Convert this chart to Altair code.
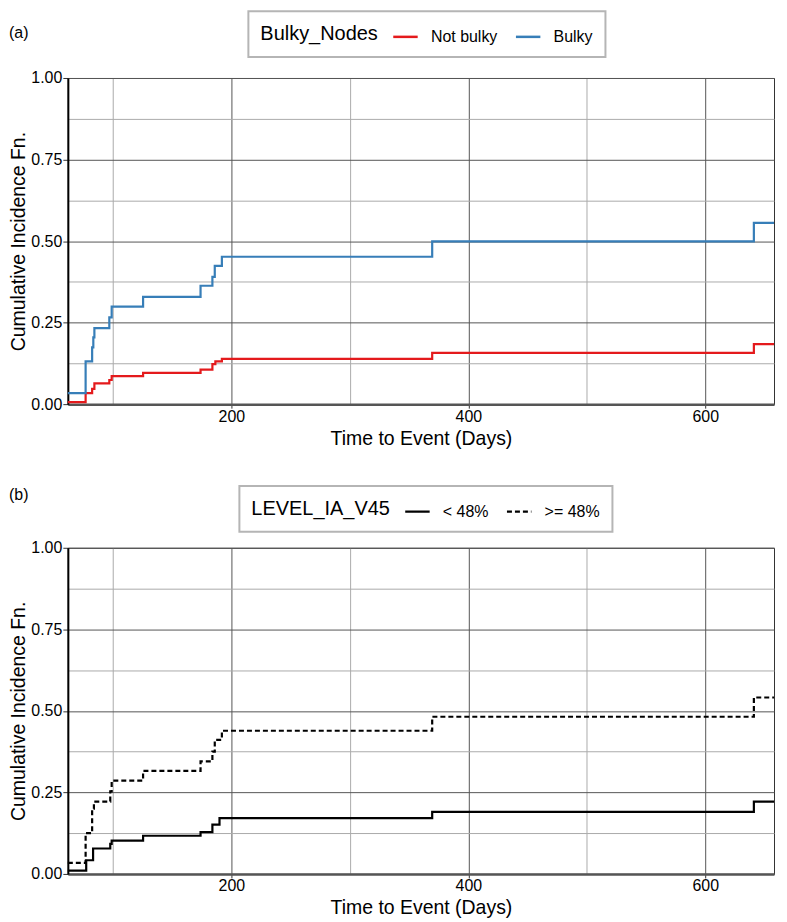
import altair as alt
import pandas as pd

FONT = "Liberation Sans"

# ---------------- panel (a) data ----------------
bulky_groups = ["Not bulky", "Bulky"]
notbulky_t = [62, 77, 82.5, 84.4, 97, 99, 125.5, 174, 184, 186.5, 192, 369.5, 641, 658]
notbulky_v = [0.006, 0.034, 0.047, 0.064, 0.074, 0.086, 0.096, 0.106, 0.123, 0.131, 0.139, 0.157, 0.184, 0.184]
bulky_t = [62, 77, 82.5, 83.5, 84.4, 97, 99, 125.5, 174, 184, 186, 192, 369.5, 641, 658]
bulky_v = [0.034, 0.131, 0.174, 0.205, 0.233, 0.266, 0.299, 0.329, 0.363, 0.39, 0.424, 0.452, 0.499, 0.556, 0.556]
bulky_colors = ["#E41A1C", "#377EB8"]

# ---------------- panel (b) data ----------------
level_groups = ["< 48%", ">= 48%"]
low_t = [62, 77.5, 83.3, 97.8, 99, 125.5, 174, 184, 190, 369.5, 641, 658]
low_v = [0.010, 0.042, 0.078, 0.092, 0.102, 0.117, 0.128, 0.151, 0.171, 0.19, 0.222, 0.222]
high_t = [62, 77, 82.5, 84, 97.8, 99, 125.5, 174, 184, 186, 192, 369.5, 641, 658]
high_v = [0.034, 0.125, 0.20, 0.222, 0.253, 0.286, 0.316, 0.345, 0.375, 0.411, 0.439, 0.482, 0.541, 0.541]

panel_labels = ["(a)", "(b)"]

x_ticks = [100, 200, 300, 400, 500, 600]
y_ticks = [0, 0.125, 0.25, 0.375, 0.5, 0.625, 0.75, 0.875, 1.0]
x_domain = [62, 658]

df_a = pd.concat([
    pd.DataFrame({"time": notbulky_t, "cif": notbulky_v, "group": bulky_groups[0]}),
    pd.DataFrame({"time": bulky_t, "cif": bulky_v, "group": bulky_groups[1]}),
])
df_b = pd.concat([
    pd.DataFrame({"time": low_t, "cif": low_v, "group": level_groups[0]}),
    pd.DataFrame({"time": high_t, "cif": high_v, "group": level_groups[1]}),
])

MAJOR = "#555555"
MINOR = "#ababab"


def x_enc():
    return alt.X(
        "time:Q",
        scale=alt.Scale(domain=x_domain, nice=False, zero=False),
        axis=alt.Axis(
            values=x_ticks,
            title="Time to Event (Days)",
            labelExpr="datum.value % 200 == 0 ? datum.label : ''",
            gridColor={"condition": {"test": "datum.value % 200 == 0", "value": MAJOR}, "value": MINOR},
            tickOpacity={"condition": {"test": "datum.value % 200 == 0", "value": 1}, "value": 0},
            domainColor="#555555",
            domainWidth=2.5,
            tickColor="#333333",
            tickSize=4,
            labelFontSize=16,
            titleFontSize=19.5,
            labelFont=FONT,
            titleFont=FONT,
            titleFontWeight="normal",
            labelColor="black",
            titleColor="black",
            labelPadding=0,
            titlePadding=5,
        ),
    )


def y_enc():
    return alt.Y(
        "cif:Q",
        scale=alt.Scale(domain=[0, 1], nice=False),
        axis=alt.Axis(
            values=y_ticks,
            title="Cumulative Incidence Fn.",
            format=".2f",
            labelExpr="(datum.value * 8) % 2 == 0 ? datum.label : ''",
            gridColor={"condition": {"test": "(datum.value * 8) % 2 == 0", "value": MAJOR}, "value": MINOR},
            tickOpacity={"condition": {"test": "(datum.value * 8) % 2 == 0", "value": 1}, "value": 0},
            domainColor="black",
            domainWidth=2,
            tickColor="#333333",
            tickSize=5,
            labelFontSize=16,
            titleFontSize=19.5,
            labelFont=FONT,
            titleFont=FONT,
            titleFontWeight="normal",
            labelColor="black",
            titleColor="black",
            labelPadding=1,
            titlePadding=2,
        ),
    )


def legend(x, y, title):
    return alt.Legend(
        title=title,
        orient="none",
        legendX=x,
        legendY=y,
        direction="horizontal",
        titleOrient="left",
        strokeColor="#b5b5b5",
        fillColor="white",
        padding=12,
        titleFontSize=20,
        titleFont=FONT,
        titleFontWeight="normal",
        titleColor="black",
        titlePadding=14,
        labelFontSize=16,
        labelFont=FONT,
        labelColor="black",
        symbolType="stroke",
        symbolSize=600,
        symbolStrokeWidth=2.5,
        columnPadding=13,
        labelOffset=12,
    )


def panel_label(text, y_off):
    return alt.Chart(pd.DataFrame({"label": [text]})).mark_text(
        align="left", baseline="middle", fontSize=16, font=FONT, color="black"
    ).encode(text="label:N", x=alt.value(-59), y=alt.value(y_off))


W, H = 708, 327

lines_a = alt.Chart(df_a).mark_line(interpolate="step-after", strokeWidth=2.2).encode(
    x=x_enc(),
    y=y_enc(),
    color=alt.Color(
        "group:N",
        scale=alt.Scale(domain=bulky_groups, range=bulky_colors),
        legend=legend(181, -67, "Bulky_Nodes"),
    ),
)
chart_a = alt.layer(lines_a, panel_label(panel_labels[0], -45)).properties(width=W, height=H)

lines_b = alt.Chart(df_b).mark_line(interpolate="step-after", strokeWidth=2.2, color="black").encode(
    x=x_enc(),
    y=y_enc(),
    strokeDash=alt.StrokeDash(
        "group:N",
        scale=alt.Scale(domain=level_groups, range=[[1, 0], [5, 3]]),
        legend=legend(172, -62, "LEVEL_IA_V45"),
    ),
)
chart_b = alt.layer(lines_b, panel_label(panel_labels[1], -53)).properties(width=W, height=H)

chart = (
    alt.vconcat(chart_a, chart_b, spacing=36)
    .resolve_scale(color="independent", strokeDash="independent")
    .resolve_legend(color="independent", strokeDash="independent")
    .properties(padding={"left": 0, "top": 0, "right": 0, "bottom": 0})
    .configure_view(stroke="#333333", strokeWidth=1)
    .configure_legend(strokeWidth=2)
)

chart.save("out.html", embed_options={"renderer": "svg", "actions": False})
